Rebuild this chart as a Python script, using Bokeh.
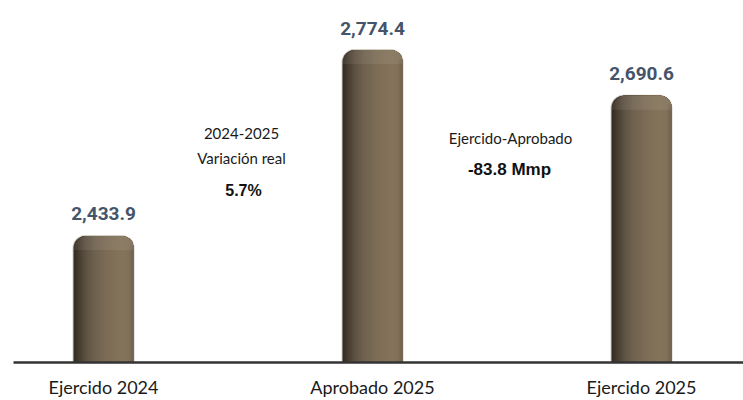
import numpy as np
from bokeh.plotting import figure
from bokeh.models import ColumnDataSource, FixedTicker, Label, Range1d
from bokeh.embed import file_html
from bokeh.resources import INLINE
from bokeh.core.properties import value

# ---- data ----
categories = ["Ejercido 2024", "Aprobado 2025", "Ejercido 2025"]
values = [2433.9, 2774.4, 2690.6]
value_labels = ["2,433.9", "2,774.4", "2,690.6"]
note_variacion = ["2024-2025", "Variación real", "5.7%"]
note_diferencia = ["Ejercido-Aprobado", "-83.8 Mmp"]

# ---- layout constants ----
W, H = 743, 400
BL, BB = 13, 38
FW, FH = W - BL, H - BB
PX_X = 269.0          # pixels per category unit
PX_Y = 0.546          # pixels per value unit
X0 = -(103 - BL) / PX_X
X1 = X0 + FW / PX_X
Y0 = 2202.2
Y1 = Y0 + FH / PX_Y


def dx(page_x):
    return X0 + (page_x - BL) / PX_X


def dy(page_y):
    return Y1 - page_y / PX_Y


p = figure(width=W, height=H, x_range=Range1d(X0, X1), y_range=Range1d(Y0, Y1),
           output_backend="svg", toolbar_location=None, y_axis_location=None,
           min_border_left=BL, min_border_right=0, min_border_top=0, min_border_bottom=BB)
p.outline_line_color = None
p.grid.visible = False
p.background_fill_color = "white"
p.border_fill_color = "white"

xs_cat = list(range(len(categories)))

# ---- bar outline (light edge) ----
BW_PX = 60
R_PX = 12
p.vbar(x=xs_cat, width=(BW_PX + 2) / PX_X, bottom=Y0,
       top=[v + 1.0 / PX_Y for v in values],
       fill_color="#d3cdc4", line_color=None, border_radius=(13, 13, 0, 0))

# ---- gradient: layered quads, each from u_k to the bar's right edge ----
N = 30
stops_t = [0.0, 0.08, 0.2, 0.35, 0.55, 0.8, 0.92, 1.0]
stops_c = ["#302a21", "#43392e", "#5c5041", "#6e614e", "#7c6c56", "#85745b", "#817159", "#6e614f"]


def hex2rgb(h):
    return np.array([int(h[i:i + 2], 16) for i in (1, 3, 5)], dtype=float)


rgbs = np.array([hex2rgb(c) for c in stops_c])

for k in range(N):
    u = k * BW_PX / N
    t = (u + 0.5 * BW_PX / N) / BW_PX
    c = [np.interp(t, stops_t, rgbs[:, m]) for m in range(3)]
    col = "#%02x%02x%02x" % tuple(int(round(v)) for v in c)
    w = BW_PX - u
    if w >= R_PX:
        tl = int(round(max(R_PX - u, 0.0)))
        radius = (tl, R_PX, 0, 0)
        tops = list(values)
    else:
        radius = (0, int(round(w)), 0, 0)
        tops = [v - (R_PX - w) / PX_Y for v in values]
    lefts = [i - BW_PX / 2 / PX_X + u / PX_X for i in xs_cat]
    rights = [i + BW_PX / 2 / PX_X for i in xs_cat]
    p.quad(left=lefts, right=rights, bottom=Y0, top=tops,
           fill_color=col, line_color=None, border_radius=radius)

# top highlight
p.vbar(x=xs_cat, width=BW_PX / PX_X, bottom=[v - 14 / PX_Y for v in values], top=values,
       fill_color="white", fill_alpha=0.07, line_color=None, border_radius=(12, 12, 0, 0))

# ---- value labels ----
lab_src = ColumnDataSource(dict(x=xs_cat, y=values, t=value_labels))
p.text(x="x", y="y", text="t", source=lab_src, y_offset=-22,
       text_align="center", text_baseline="alphabetic",
       text_font=value("Roboto"), text_font_style="bold",
       text_font_size="19px", text_color="#44546A")


# ---- notes ----
def note(x, y, txt, bold=False, size="15px"):
    p.add_layout(Label(x=dx(x), y=dy(y), text=txt, text_align="center",
                       text_baseline="middle",
                       text_font="Liberation Sans" if bold else "Lato",
                       text_font_style="bold" if bold else "normal",
                       text_font_size=size, text_color="#111111" if bold else "#1a1a1a"))


note(241, 133, note_variacion[0])
note(241, 157, note_variacion[1])
note(243, 190, note_variacion[2], bold=True, size="16px")
note(510, 137, note_diferencia[0])
note(509, 169, note_diferencia[1], bold=True, size="17px")

# ---- x axis ----
ax = p.xaxis[0]
ax.ticker = FixedTicker(ticks=xs_cat)
ax.major_label_overrides = {i: c for i, c in zip(xs_cat, categories)}
ax.axis_line_color = "#333333"
ax.axis_line_width = 2.5
ax.major_tick_line_color = None
ax.minor_tick_line_color = None
ax.major_tick_out = 0
ax.major_tick_in = 0
ax.minor_tick_out = 0
ax.minor_tick_in = 0
ax.major_label_standoff = 13
ax.major_label_text_font = "Lato"
ax.major_label_text_font_size = "18px"
ax.major_label_text_color = "#1a1a1a"

open("out.html", "w").write(file_html(p, INLINE))
